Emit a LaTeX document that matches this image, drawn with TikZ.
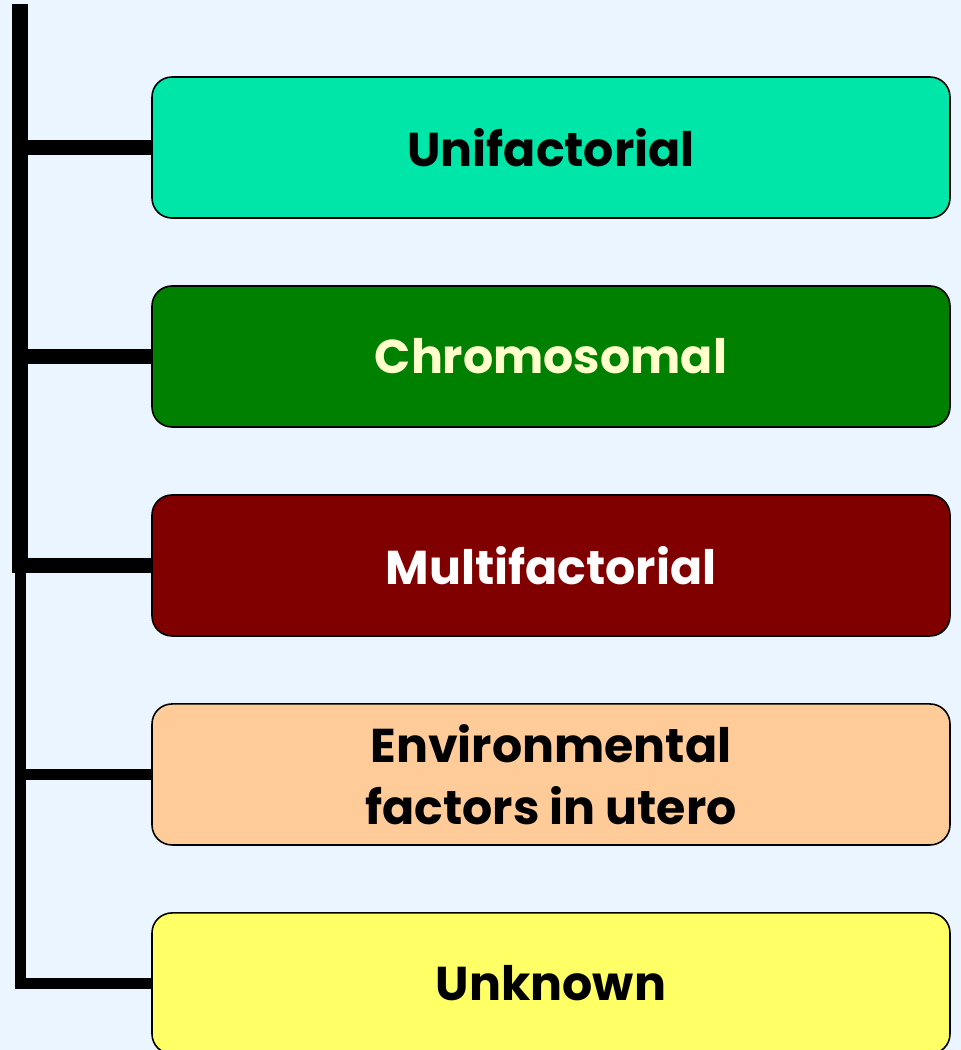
\documentclass[tikz,border=0pt]{standalone}
\usepackage{fontspec}
\setmainfont{Poppins}
\usetikzlibrary{positioning, calc}

\definecolor{bgblue}{RGB}{234,245,255}
\definecolor{unicol}{RGB}{0,229,168}
\definecolor{chromcol}{RGB}{0,128,0}
\definecolor{multicol}{RGB}{128,0,0}
\definecolor{envcol}{RGB}{255,204,153}
\definecolor{unkcol}{RGB}{255,255,102}
\definecolor{creamtxt}{RGB}{255,255,204}

\begin{document}
\begin{tikzpicture}[
    cause/.style={draw=black, line width=0.9pt, rounded corners=0.4cm,
        minimum width=15.96cm, minimum height=2.82cm, align=center,
        font=\bfseries\fontsize{27}{35}\selectfont},
    thick spine/.style={line width=9pt},
    thin spine/.style={line width=6.5pt},
    node distance=1.328cm
]
% Background
\fill[bgblue] (0,0) rectangle (19.22,-21);
\useasboundingbox (0,0) rectangle (19.22,-21);

% Causes
\node[cause, fill=unicol] (uni) at (11.02,-2.95) {Unifactorial};
\node[cause, fill=chromcol, text=creamtxt, below=of uni] (chrom) {Chromosomal};
\node[cause, fill=multicol, text=white, below=of chrom] (multi) {Multifactorial};
\node[cause, fill=envcol, below=of multi] (env) {Environmental\\ factors in utero};
\node[cause, fill=unkcol, below=of env] (unk) {Unknown};

% Spine
\coordinate (spinetop) at (0.40,-0.08);
\coordinate (spinemid) at (0.40,-11.46);
\coordinate (spinelow) at (0.41,-11.14);
\draw[thick spine] (spinetop) -- (spinemid);
\draw[thin spine, line join=miter] (spinelow) |- (unk.west);

% Branches
\draw[thick spine] (spinetop |- uni.west) -- (uni.west);
\draw[thick spine] (spinetop |- chrom.west) -- (chrom.west);
\draw[thick spine] (spinetop |- multi.west) -- (multi.west);
\draw[thin spine] (spinelow |- env.west) -- (env.west);
\end{tikzpicture}
\end{document}
